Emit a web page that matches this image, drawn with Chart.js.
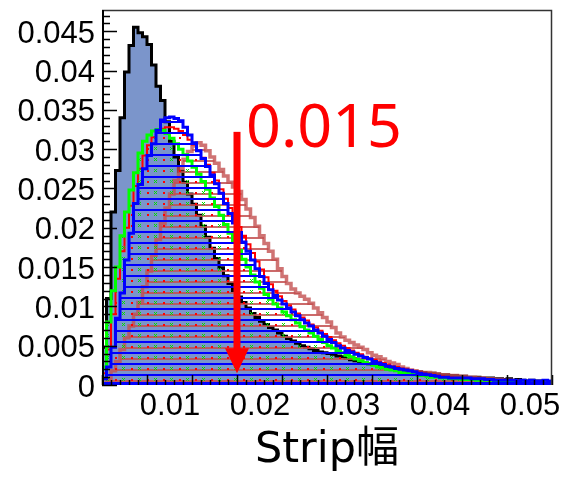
<!DOCTYPE html>
<html>
<head>
<meta charset="utf-8">
<script src="https://cdn.jsdelivr.net/npm/chart.js@4.4.1/dist/chart.umd.min.js"></script>
<style>
  html, body { margin: 0; padding: 0; background: #fff; }
</style>
</head>
<body>
<canvas id="c" width="579" height="480"></canvas>
<script>
// 100 bins of 0.0005 from 0 to 0.05; bin contents, in units of 1e-3
const binWidth = 0.0005;
const xMin = 0, xMax = 0.05;
const yMax = 0.0477;
const cutValue = 0.015;
const cutLabel = "0.015";
const axisTitle = "Strip幅";

const blackHist = [
  4.8, 11.0, 22.0, 27.3, 34.0, 39.8, 43.2, 45.5, 44.8, 44.3,
  43.3, 40.7, 38.0, 36.2, 33.5, 31.0, 29.0, 27.2, 25.8, 24.3,
  23.0, 21.6, 20.2, 18.8, 17.4, 16.1, 14.9, 13.9, 12.9, 12.0,
  11.2, 10.5, 9.8, 9.1, 8.6, 8.1, 7.7, 7.3, 7.0, 6.6,
  6.2, 5.9, 5.6, 5.3, 5.0, 4.8, 4.6, 4.4, 4.2, 4.1,
  4.0, 3.9, 3.7, 3.6, 3.4, 3.2, 3.1, 2.9, 2.8, 2.7,
  2.6, 2.5, 2.4, 2.3, 2.2, 2.1, 2.0, 1.9, 1.8, 1.7,
  1.7, 1.6, 1.5, 1.5, 1.4, 1.3, 1.3, 1.2, 1.2, 1.1,
  1.1, 1.0, 1.0, 1.0, 0.9, 0.9, 0.9, 0.8, 0.8, 0.7,
  0.8, 0.6, 0.7, 0.6, 0.5, 0.6, 0.5, 0.5, 0.4, 0.4
];
const blueHist = [
  0.8, 2.3, 4.8, 8.5, 11.7, 15.9, 19.3, 23.1, 25.5, 27.5,
  29.2, 30.7, 32.4, 33.7, 34.0, 34.1, 33.9, 33.6, 32.8, 31.8,
  30.8, 29.8, 28.8, 27.8, 26.7, 25.6, 24.4, 23.1, 21.8, 20.6,
  19.4, 18.2, 17.0, 15.9, 14.8, 13.8, 12.9, 12.1, 11.4, 10.8,
  10.3, 9.8, 9.3, 8.8, 8.3, 7.9, 7.5, 7.0, 6.6, 6.2,
  5.8, 5.4, 5.0, 4.7, 4.4, 4.2, 3.9, 3.7, 3.5, 3.3,
  3.0, 2.8, 2.6, 2.4, 2.3, 2.1, 2.0, 1.9, 1.8, 1.7,
  1.5, 1.4, 1.3, 1.2, 1.1, 1.0, 1.0, 0.9, 0.9, 0.9,
  0.9, 0.9, 0.8, 0.8, 0.8, 0.7, 0.7, 0.6, 0.6, 0.6,
  0.6, 0.6, 0.5, 0.6, 0.5, 0.6, 0.5, 0.5, 0.6, 0.5
];
const greenHist = [
  2.3, 8.0, 12.0, 15.0, 19.0, 22.0, 24.8, 27.0, 29.5, 31.0,
  31.8, 32.3, 32.5, 32.4, 32.0, 31.4, 30.7, 30.0, 29.3, 28.5,
  27.7, 26.8, 25.9, 24.9, 23.8, 22.7, 21.6, 20.4, 19.3, 18.2,
  17.1, 16.0, 15.0, 14.0, 13.1, 12.3, 11.5, 10.9, 10.3, 9.8,
  9.3, 8.8, 8.3, 7.9, 7.4, 7.0, 6.6, 6.2, 5.8, 5.4,
  5.0, 4.7, 4.4, 4.1, 3.8, 3.6, 3.3, 3.1, 2.9, 2.7,
  2.5, 2.3, 2.2, 2.0, 1.9, 1.8, 1.6, 1.5, 1.4, 1.3,
  1.2, 1.2, 1.1, 1.0, 1.0, 0.9, 0.9, 0.8, 0.8, 0.8,
  0.7, 0.7, 0.7, 0.6, 0.6, 0.6, 0.6, 0.5, 0.5, 0.5,
  0.5, 0.4, 0.4, 0.4, 0.4, 0.3, 0.3, 0.3, 0.3, 0.3
];
const redHist = [
  1.5, 4.5, 9.0, 13.5, 17.0, 20.0, 22.8, 25.3, 27.5, 29.2,
  30.5, 31.5, 32.2, 32.6, 32.8, 32.8, 32.6, 32.3, 31.8, 31.2,
  30.6, 29.8, 28.9, 28.0, 27.0, 26.0, 24.9, 23.7, 22.5, 21.3,
  20.1, 19.0, 17.9, 16.8, 15.7, 14.7, 13.7, 12.8, 12.0, 11.3,
  10.7, 10.1, 9.6, 9.1, 8.6, 8.2, 7.7, 7.3, 6.9, 6.5,
  6.1, 5.7, 5.3, 5.0, 4.7, 4.4, 4.1, 3.9, 3.6, 3.4,
  3.2, 3.0, 2.8, 2.6, 2.4, 2.3, 2.1, 2.0, 1.9, 1.7,
  1.6, 1.5, 1.4, 1.3, 1.2, 1.1, 1.0, 1.0, 0.9, 0.9,
  0.8, 0.8, 0.8, 0.7, 0.7, 0.7, 0.6, 0.6, 0.6, 0.5,
  0.5, 0.5, 0.5, 0.4, 0.4, 0.4, 0.4, 0.3, 0.3, 0.3
];
const pinkHist = [
  0.2, 0.8, 1.8, 3.0, 4.5, 6.0, 7.5, 9.0, 10.5, 12.5,
  14.5, 16.5, 18.5, 20.5, 22.5, 24.3, 26.0, 27.5, 28.7, 29.7,
  30.4, 30.8, 30.5, 29.8, 29.0, 28.2, 27.4, 26.6, 25.8, 25.2,
  24.6, 23.6, 22.4, 21.3, 20.2, 19.0, 18.0, 17.0, 16.0, 14.8,
  13.8, 12.9, 12.2, 11.7, 11.3, 10.9, 10.4, 9.8, 9.2, 8.6,
  8.0, 7.3, 6.6, 6.1, 5.7, 5.4, 5.1, 4.8, 4.5, 4.1,
  3.8, 3.6, 3.3, 3.0, 2.8, 2.6, 2.3, 2.1, 1.9, 1.8,
  1.7, 1.6, 1.6, 1.5, 1.4, 1.3, 1.3, 1.2, 1.2, 1.1,
  1.1, 1.0, 1.0, 0.9, 0.9, 0.8, 0.8, 0.7, 0.7, 0.6,
  0.6, 0.5, 0.5, 0.4, 0.4, 0.4, 0.3, 0.3, 0.3, 0.2
];

// step outline: rise from 0 at the low edge, one point per bin low edge, back to 0 at the high edge
function histPoints(vals) {
  const pts = [{ x: xMin, y: 0 }];
  vals.forEach((v, i) => pts.push({ x: xMin + i * binWidth, y: v / 1000 }));
  pts.push({ x: xMax, y: vals[vals.length - 1] / 1000 });
  pts.push({ x: xMax, y: 0 });
  return pts;
}

const canvas = document.getElementById("c");
const ctx = canvas.getContext("2d");

function makePattern(w, h, draw) {
  const tile = document.createElement("canvas");
  tile.width = w;
  tile.height = h;
  draw(tile.getContext("2d"));
  return ctx.createPattern(tile, "repeat");
}
const bluePattern = makePattern(8, 11, g => { g.fillStyle = "#0000ff"; g.fillRect(0, 0, 8, 2); });
const pinkPattern = makePattern(8, 11, g => { g.fillStyle = "rgba(195,80,80,0.85)"; g.fillRect(0, 6, 8, 2); });
const redPattern = makePattern(16, 11, g => { g.fillStyle = "#ff0000"; g.fillRect(3, 5, 2, 2); });
const greenPattern = makePattern(16, 11, g => {
  g.fillStyle = "#00dd00";
  g.fillRect(10, 4, 1, 1); g.fillRect(12, 4, 1, 1);
  g.fillRect(11, 5, 1, 1);
  g.fillRect(10, 6, 1, 1); g.fillRect(12, 6, 1, 1);
});

function histDataset(vals, line, width, fillStyle) {
  return {
    data: histPoints(vals),
    borderColor: line,
    borderWidth: width,
    backgroundColor: fillStyle,
    fill: "origin",
    stepped: "before",
    pointRadius: 0,
    borderJoinStyle: "miter",
    borderCapStyle: "butt"
  };
}

const tickFont = { family: "'Liberation Sans', Arial", size: 31 };

const overlay = {
  id: "overlay",
  afterDatasetsDraw(chart) {
    const { ctx, chartArea: a, scales: { x, y } } = chart;
    ctx.save();
    // baseline of the blue histogram
    ctx.strokeStyle = "#0000ff";
    ctx.lineWidth = 3;
    ctx.beginPath();
    ctx.moveTo(a.left, a.bottom - 1.5);
    ctx.lineTo(a.right, a.bottom - 1.5);
    ctx.stroke();

    // inward axis ticks, major every 0.005, minor every 0.001
    ctx.strokeStyle = "#000";
    ctx.lineWidth = 1.5;
    ctx.beginPath();
    for (let k = 0; k * 0.001 <= yMax; k++) {
      const py = Math.round(y.getPixelForValue(k * 0.001)) + 0.5;
      ctx.moveTo(a.left, py);
      ctx.lineTo(a.left + (k % 5 === 0 ? 15 : 8), py);
    }
    for (let k = 0; k * 0.001 <= xMax + 1e-9; k++) {
      const px = Math.round(x.getPixelForValue(k * 0.001)) + 0.5;
      ctx.moveTo(px, a.bottom);
      ctx.lineTo(px, a.bottom - (k % 5 === 0 ? 10 : 5));
    }
    ctx.stroke();

    // frame
    ctx.strokeStyle = "#333";
    ctx.lineWidth = 1.5;
    ctx.beginPath();
    ctx.moveTo(a.left, a.top + 0.5);
    ctx.lineTo(a.right - 0.5, a.top + 0.5);
    ctx.lineTo(a.right - 0.5, a.bottom);
    ctx.stroke();
    ctx.strokeStyle = "#000";
    ctx.lineWidth = 2;
    ctx.beginPath();
    ctx.moveTo(a.left + 1, a.top);
    ctx.lineTo(a.left + 1, a.bottom);
    ctx.stroke();

    // cut arrow
    const ax = x.getPixelForValue(cutValue);
    const top = y.getPixelForValue(0.0322);
    const tip = y.getPixelForValue(0.0015);
    ctx.fillStyle = "#ff0000";
    ctx.fillRect(ax - 3.5, top, 7, tip - 24 - top);
    ctx.beginPath();
    ctx.moveTo(ax - 12, tip - 25);
    ctx.lineTo(ax + 12, tip - 25);
    ctx.lineTo(ax, tip);
    ctx.closePath();
    ctx.fill();

    ctx.font = "61px 'Noto Sans'";
    ctx.textAlign = "left";
    ctx.textBaseline = "alphabetic";
    ctx.fillText(cutLabel, ax + 9, top + 15);
    ctx.restore();
  }
};

new Chart(canvas, {
  type: "line",
  data: {
    datasets: [
      histDataset(blueHist, "#0000ff", 3, bluePattern),
      histDataset(greenHist, "#00ff00", 3, greenPattern),
      histDataset(redHist, "#ff0000", 2, redPattern),
      histDataset(pinkHist, "rgba(195,80,80,0.8)", 3.5, pinkPattern),
      histDataset(blackHist, "#000000", 3, "#7b95cb")
    ]
  },
  options: {
    responsive: false,
    animation: false,
    devicePixelRatio: 1,
    layout: { padding: { top: 10, right: 27, left: 0, bottom: 0 } },
    plugins: { legend: { display: false }, tooltip: { enabled: false } },
    scales: {
      x: {
        type: "linear",
        min: xMin,
        max: xMax,
        grid: { display: false, drawTicks: false },
        border: { display: false },
        ticks: {
          stepSize: 0.01,
          includeBounds: false,
          autoSkip: false,
          maxRotation: 0,
          labelOffset: -22,
          padding: 3,
          color: "#000",
          font: tickFont,
          callback: v => (v === 0 ? "" : String(+v.toFixed(3)))
        },
        title: {
          display: true,
          text: axisTitle,
          color: "#000",
          font: { family: "'DejaVu Sans', 'Noto Sans CJK JP'", size: 43 },
          padding: { top: 0, bottom: 3 }
        },
        afterFit: s => { s.height = 95; s.paddingLeft = 0; s.paddingRight = 0; }
      },
      y: {
        min: 0,
        max: yMax,
        grid: { display: false, drawTicks: false },
        border: { display: false },
        ticks: {
          stepSize: 0.005,
          includeBounds: false,
          padding: 7,
          labelOffset: 3,
          color: "#000",
          font: tickFont,
          callback: v => String(+v.toFixed(3))
        },
        afterFit: s => { s.width = 102; s.paddingTop = 0; s.paddingBottom = 0; }
      }
    }
  },
  plugins: [overlay]
});
</script>
</body>
</html>
